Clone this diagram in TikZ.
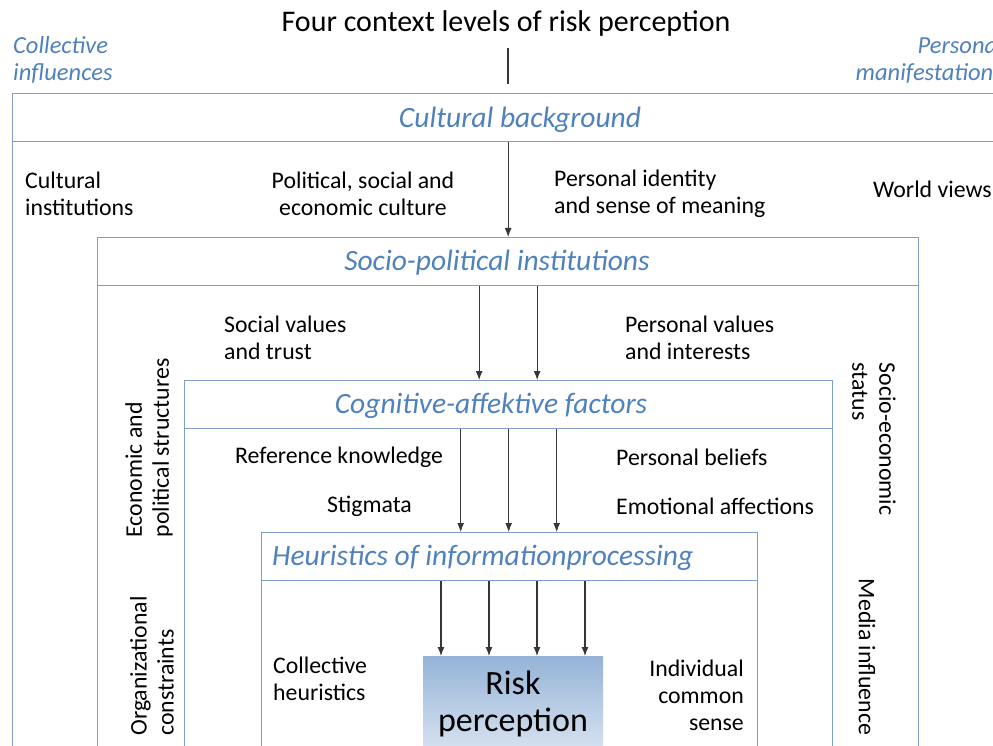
\documentclass[tikz,border=0pt]{standalone}
\usepackage{fontspec}
\setmainfont{Carlito}
\usetikzlibrary{arrows.meta}
\definecolor{levelline}{RGB}{128,158,201}
\definecolor{leveltext}{RGB}{79,129,189}
\definecolor{arrowgray}{RGB}{55,55,55}
\definecolor{risktop}{RGB}{149,179,215}
\definecolor{riskbottom}{RGB}{222,231,243}
\begin{document}
\begin{tikzpicture}[x=1pt,y=-1pt,
  levelbox/.style={draw=levelline,line width=1.3pt,anchor=north west,inner sep=0pt},
  headfont/.style={text=leveltext,font=\fontsize{29.5}{34}\selectfont\itshape,inner sep=0pt},
  header/.style={levelbox,minimum height=48pt},
  label/.style={font=\fontsize{23.8}{27}\selectfont,inner sep=0pt,text=black},
  sidelabel/.style={font=\fontsize{24.5}{27}\selectfont\itshape,inner sep=0pt,text=leveltext},
  arr/.style={draw=arrowgray,line width=1.1pt,-{Latex[length=9pt,width=7pt]}}
]
\useasboundingbox (0,0) rectangle (993,746);
\fill[white] (0,0) rectangle (993,746);

% title and its stem
\node[font=\fontsize{30}{36}\selectfont,inner sep=0pt] (title) at (506,24) {Four context levels of risk perception};
\coordinate (stemstart) at (508,48);
\coordinate (stemend) at (508,84);
\draw[arrowgray,line width=1.1pt] (stemstart) -- (stemend);

\node[sidelabel,anchor=north west,align=left] (collective) at (13,36) {Collective\\influences};
\node[sidelabel,anchor=north east,align=right] (personal) at (1003,36) {Personal\\manifestations};

% level 1: cultural background
\node[levelbox,minimum width=1010pt,minimum height=700pt] (b1) at (12,141) {};
\node[header,minimum width=1010pt] (h1) at (12,93) {};
\node[headfont] (t1) at (520,120) {Cultural background};

% level 2: socio-political institutions
\node[levelbox,fill=white,minimum width=821pt,minimum height=600pt] (b2) at (97,285) {};
\node[header,fill=white,minimum width=821pt] (h2) at (97,237) {};
\node[headfont] (t2) at (497,263) {Socio-political institutions};

% level 3: cognitive-affective factors
\node[levelbox,fill=white,minimum width=648pt,minimum height=500pt] (b3) at (184,428) {};
\node[header,fill=white,minimum width=648pt] (h3) at (184,380) {};
\node[headfont] (t3) at (491,406) {Cognitive-affektive factors};

% level 4: heuristics
\node[levelbox,fill=white,minimum width=496pt,minimum height=400pt] (b4) at (261,580) {};
\node[header,fill=white,minimum width=496pt] (h4) at (261,532) {};
\node[headfont,anchor=west] (t4) at (272,558) {Heuristics of informationprocessing};

% core
\shade[top color=risktop,bottom color=riskbottom] (423,656) rectangle (603,760);
\node[font=\fontsize{34}{37}\selectfont,align=center,inner sep=0pt] (risk) at (513,704) {Risk\\perception};
\coordinate (risktopc) at (513,656);

% influences between levels
\draw[arr] (h1.south -| h2.north) -- (h2.north);
\draw[arr] ([xshift=-29pt]h2.south) -- ([xshift=-29pt]h2.south |- h3.north);
\draw[arr] ([xshift=29pt]h2.south) -- ([xshift=29pt]h2.south |- h3.north);
\foreach \dx in {-48,0,48}
  \draw[arr] ([xshift=\dx pt]h3.south) -- ([xshift=\dx pt]h3.south |- h4.north);
\foreach \dx in {-72,-24,24,72}
  \draw[arr] ([xshift=\dx pt]risktopc |- h4.south) -- ([xshift=\dx pt]risktopc);

% level 1 labels
\node[label,anchor=west,align=left] (cultinst) at (25,194) {Cultural\\institutions};
\node[label,align=center] (polcult) at (363,194) {Political, social and\\economic culture};
\node[label,anchor=west,align=left] (identity) at (554,194) {Personal identity\\and sense of meaning};
\node[label,anchor=west] (world) at (873,189) {World views};

% level 2 labels
\node[label,anchor=west,align=left] (social) at (224,338) {Social values\\and trust};
\node[label,anchor=west,align=left] (persval) at (625,338) {Personal values\\and interests};
\node[label,rotate=90,align=left] (econ) at (149,448) {Economic and\\political structures};
\node[label,rotate=90,align=left] (organ) at (152,666) {Organizational\\constraints};
\node[label,rotate=-90,align=left] (socioeco) at (874,439) {Socio-economic\\status};
\node[label,rotate=-90] (media) at (867,657) {Media influence};

% level 3 labels
\node[label,anchor=west] (refknow) at (235,457) {Reference knowledge};
\node[label,anchor=west] (stigmata) at (327,506) {Stigmata};
\node[label,anchor=west] (beliefs) at (616,457) {Personal beliefs};
\node[label,anchor=west] (emotion) at (616,506) {Emotional affections};

% level 4 labels
\node[label,anchor=west,align=left] (collheur) at (273,679) {Collective\\heuristics};
\node[label,anchor=east,align=right] (indiv) at (744,695) {Individual\\common\\sense};
\end{tikzpicture}
\end{document}
